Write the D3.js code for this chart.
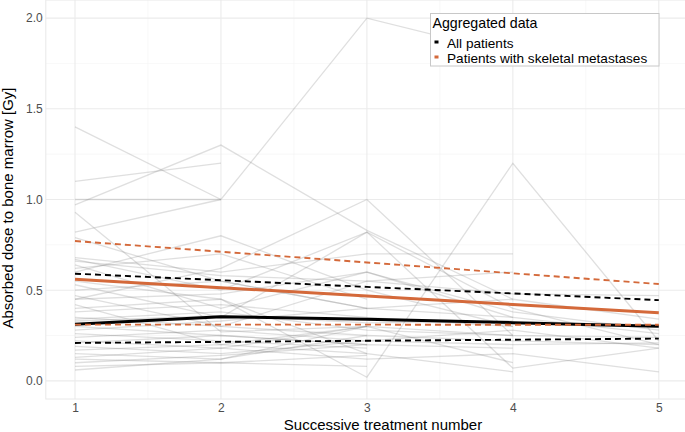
<!DOCTYPE html>
<html>
<head>
<meta charset="utf-8">
<script src="https://cdn.jsdelivr.net/npm/d3@7"></script>
<style>
  body { margin: 0; background: #fff; }
  text { font-family: "Liberation Sans", Arial, sans-serif; }
</style>
</head>
<body>
<script>
let width = 685;
let height = 432;

// treatment numbers and axis ticks
const treatments = [1, 2, 3, 4, 5];
const yTicks = [0, 0.5, 1.0, 1.5, 2.0];

// individual patients, absorbed dose per successive treatment (Gy)
const patients = [
	[1.40, 1.00, 2.00, 1.80],
	[1.10, 1.20],
	[0.97, 1.30, 0.83, 0.45],
	[1.00, 1.00],
	[0.82, 1.00],
	[0.93, 0.27, 0.30],
	[0.79, 0.55, 0.40],
	[0.60, 0.80, 0.50, 0.30],
	[0.45, 0.62, 1.00, 0.25],
	[0.55, 0.45, 0.02, 1.20, 0.22],
	[0.68, 0.60, 0.70, 0.70],
	[0.67, 0.50, 0.82, 0.40, 0.20],
	[0.66, 0.58, 0.55, 0.48, 0.47],
	[0.64, 0.40, 0.60, 0.35],
	[0.62, 0.70, 0.45],
	[0.53, 0.35, 0.82, 0.07, 0.18],
	[0.50, 0.55, 0.40, 0.45, 0.34],
	[0.47, 0.30, 0.25],
	[0.45, 0.48, 0.60, 0.38, 0.28],
	[0.42, 0.20, 0.30],
	[0.38, 0.42, 0.35, 0.30],
	[0.35, 0.30, 0.55, 0.60],
	[0.34, 0.38, 0.28, 0.25, 0.24],
	[0.30, 0.25, 0.20],
	[0.28, 0.33, 0.40, 0.35, 0.26],
	[0.26, 0.22, 0.18],
	[0.24, 0.28, 0.22, 0.20, 0.21],
	[0.22, 0.18, 0.30, 0.25],
	[0.21, 0.25, 0.20],
	[0.19, 0.15, 0.22, 0.28, 0.18],
	[0.17, 0.20, 0.15],
	[0.15, 0.12, 0.30, 0.10],
	[0.13, 0.18, 0.12, 0.15, 0.05],
	[0.12, 0.10, 0.14],
	[0.10, 0.14, 0.20, 0.18],
	[0.08, 0.10, 0.08],
	[0.06, 0.12, 0.25, 0.22, 0.20],
	[0.33, 0.36, 0.32, 0.33],
	[0.40, 0.45, 0.15, 0.05]
];

// aggregated data
const allMean = [0.312, 0.354, 0.340, 0.321, 0.301];
const allUpper = [0.591, 0.555, 0.518, 0.482, 0.445];
const allLower = [0.209, 0.215, 0.221, 0.227, 0.233];
const metMean = [0.560, 0.514, 0.468, 0.421, 0.375];
const metUpper = [0.771, 0.712, 0.653, 0.593, 0.534];
const metLower = [0.310, 0.310, 0.310, 0.309, 0.309];

const legendLabels = ['All patients', 'Patients with skeletal metastases'];
const orange = '#d4693a';

let svg = d3.select('body').append('svg')
	.attr('width', width)
	.attr('height', height);

let x = d3.scaleLinear().domain([0.8, 5.2]).range([45.8, 688]);
let y = d3.scaleLinear().domain([-0.1, 2.1]).range([399, 0]);

let grid = svg.append('g');

// minor grid
[1.5, 2.5, 3.5, 4.5].forEach(v => {
	grid.append('line')
		.attr('x1', x(v)).attr('x2', x(v))
		.attr('y1', y(2.1)).attr('y2', y(-0.1))
		.style('stroke', '#f3f3f3').style('stroke-width', 0.6);
});
[0.25, 0.75, 1.25, 1.75].forEach(v => {
	grid.append('line')
		.attr('x1', x(0.8)).attr('x2', x(5.2))
		.attr('y1', y(v)).attr('y2', y(v))
		.style('stroke', '#f3f3f3').style('stroke-width', 0.6);
});
// major grid
treatments.forEach(v => {
	grid.append('line')
		.attr('x1', x(v)).attr('x2', x(v))
		.attr('y1', y(2.1)).attr('y2', y(-0.1))
		.style('stroke', '#ebebeb').style('stroke-width', 1.1);
});
yTicks.forEach(v => {
	grid.append('line')
		.attr('x1', x(0.8)).attr('x2', x(5.2))
		.attr('y1', y(v)).attr('y2', y(v))
		.style('stroke', '#ebebeb').style('stroke-width', 1.1);
});

// panel border
svg.append('rect')
	.attr('x', x(0.8)).attr('y', y(2.1))
	.attr('width', x(5.2) - x(0.8)).attr('height', y(-0.1) - y(2.1))
	.style('fill', 'none')
	.style('stroke', '#e8e8e8')
	.style('stroke-width', 1);

let line = d3.line()
	.x((d, i) => x(treatments[i]))
	.y(d => y(d));

// patient spaghetti
svg.append('g').selectAll('path')
	.data(patients)
	.enter().append('path')
	.attr('d', line)
	.style('fill', 'none')
	.style('stroke', '#7a7a7a')
	.style('stroke-opacity', 0.24)
	.style('stroke-width', 1.3);

function drawAgg(data, color, dashed) {
	svg.append('path')
		.attr('d', line(data))
		.style('fill', 'none')
		.style('stroke', color)
		.style('stroke-width', dashed ? 1.9 : 3)
		.style('stroke-dasharray', dashed ? '6,4' : null);
}

drawAgg(allUpper, '#000', true);
drawAgg(allLower, '#000', true);
drawAgg(allMean, '#000', false);
drawAgg(metUpper, orange, true);
drawAgg(metLower, orange, true);
drawAgg(metMean, orange, false);

// axes
let yAxis = svg.append('g')
	.attr('transform', 'translate(' + x(0.8) + ',0)')
	.call(d3.axisLeft(y).tickValues(yTicks).tickFormat(d3.format('.1f')).tickSize(0).tickPadding(3));
let xAxis = svg.append('g')
	.attr('transform', 'translate(0,' + y(-0.1) + ')')
	.call(d3.axisBottom(x).tickValues(treatments).tickFormat(d3.format('d')).tickSize(0).tickPadding(4));
[xAxis, yAxis].forEach(a => {
	a.select('.domain').remove();
	a.selectAll('text')
		.style('font-family', '"Liberation Sans", Arial, sans-serif')
		.style('font-size', '12px')
		.style('fill', '#4d4d4d');
});

svg.append('text')
	.attr('x', 383).attr('y', 430)
	.attr('text-anchor', 'middle')
	.style('font-size', '15px')
	.text('Successive treatment number');

svg.append('text')
	.attr('transform', 'translate(13,208) rotate(-90)')
	.attr('text-anchor', 'middle')
	.style('font-size', '15px')
	.text('Absorbed dose to bone marrow [Gy]');

// legend
let legend = svg.append('g');
legend.append('rect')
	.attr('x', 430.5).attr('y', 13.5)
	.attr('width', 228.5).attr('height', 52.5)
	.style('fill', '#fff')
	.style('stroke', '#c8c8c8')
	.style('stroke-width', 1);
legend.append('text')
	.attr('x', 432.5).attr('y', 28)
	.style('font-size', '14.2px')
	.text('Aggregated data');
legendLabels.forEach((lab, i) => {
	legend.append('rect')
		.attr('x', 434.5).attr('y', 42.5 + i * 15 - 2)
		.attr('width', 4).attr('height', 3)
		.style('fill', i === 0 ? '#000' : orange);
	legend.append('text')
		.attr('x', 447).attr('y', 47.5 + i * 15)
		.style('font-size', '13.6px')
		.text(lab);
});
</script>
</body>
</html>
